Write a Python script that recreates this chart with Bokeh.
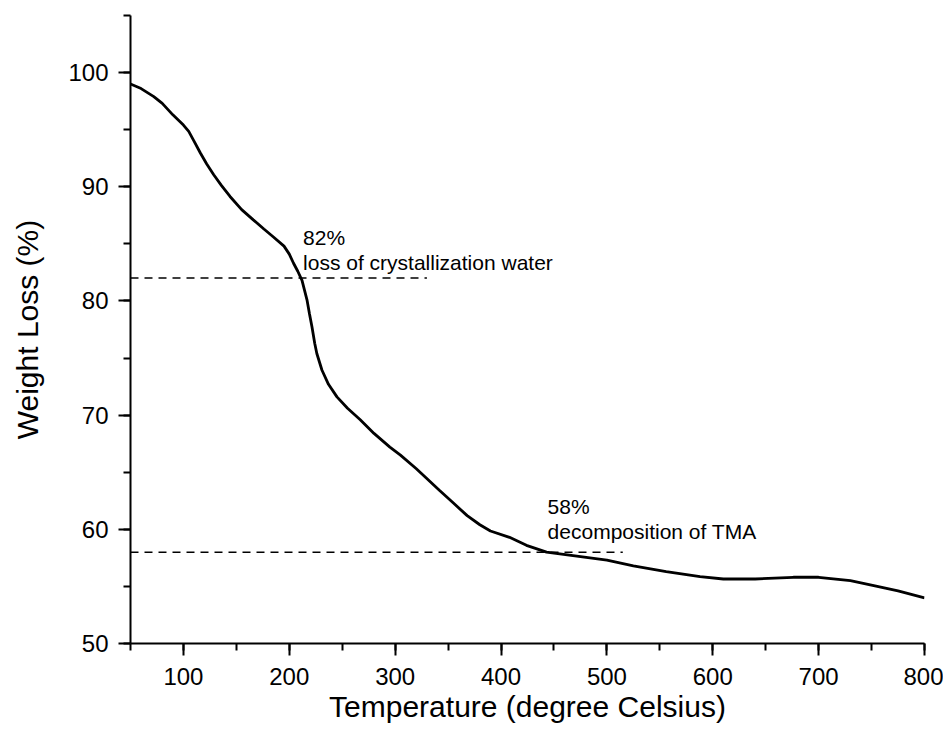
from bokeh.plotting import figure
from bokeh.models import Range1d, SingleIntervalTicker, Label
from bokeh.embed import file_html
from bokeh.resources import INLINE

# Thermogravimetric curve
temperature = [50, 60, 72, 80, 90, 100, 105, 110, 116, 122, 128.6, 136, 144, 155, 166,
               176, 185, 195, 200, 204, 208, 212, 216.7, 219, 221.4, 224, 226, 230.8,
               237, 245, 255, 267, 280, 295, 305, 320, 342, 355, 368, 380, 390, 408,
               424, 443, 468, 500, 525, 556, 588, 610, 640, 676, 700, 730, 751, 775, 800]
weight_loss = [99.0, 98.6, 97.9, 97.3, 96.3, 95.4, 94.85, 94.0, 92.96, 92.0, 91.05, 90.1,
               89.15, 88.0, 87.1, 86.3, 85.6, 84.8, 84.1, 83.3, 82.6, 81.8, 80.1, 78.9,
               77.75, 76.3, 75.4, 73.95, 72.7, 71.6, 70.6, 69.6, 68.4, 67.2, 66.5, 65.3,
               63.4, 62.3, 61.2, 60.4, 59.85, 59.3, 58.6, 58.0, 57.7, 57.3, 56.8, 56.3,
               55.85, 55.65, 55.65, 55.8, 55.8, 55.5, 55.1, 54.6, 54.0]

# Reference levels and annotations
level_values = [82, 58]
level_end_temps = [330, 515]
level_start_temp = 50
pct_labels = ["82%", "58%"]
desc_labels = ["loss of crystallization water", "decomposition of TMA"]
label_x = [213, 444]
pct_label_y = [85.55, 62.0]
desc_label_y = [83.4, 59.8]

x_title = "Temperature (degree Celsius)"
y_title = "Weight Loss (%)"

FONT = "Liberation Sans"

p = figure(width=943, height=728,
           x_range=Range1d(50, 800), y_range=Range1d(50, 105),
           output_backend="svg", toolbar_location=None,
           min_border_left=130, min_border_right=19,
           min_border_top=15, min_border_bottom=85)

p.xgrid.visible = False
p.ygrid.visible = False
p.outline_line_color = None
p.background_fill_color = "white"
p.border_fill_color = "white"

p.line(temperature, weight_loss, line_color="black", line_width=2.8)

p.segment(x0=[level_start_temp] * len(level_values), y0=level_values,
          x1=level_end_temps, y1=level_values,
          line_color="black", line_width=1.5, line_dash="8 6")

for lx, py, dy, t1, t2 in zip(label_x, pct_label_y, desc_label_y, pct_labels, desc_labels):
    p.add_layout(Label(x=lx, y=py, text=t1, text_font=FONT,
                       text_font_size="21px", text_baseline="alphabetic",
                       text_color="black"))
    p.add_layout(Label(x=lx, y=dy, text=t2, text_font=FONT,
                       text_font_size="21px", text_baseline="alphabetic",
                       text_color="black"))

p.xaxis.ticker = SingleIntervalTicker(interval=100, num_minor_ticks=2)
p.yaxis.ticker = SingleIntervalTicker(interval=10, num_minor_ticks=2)

for ax in (p.xaxis, p.yaxis):
    ax.axis_line_width = 2
    ax.axis_line_color = "black"
    ax.major_tick_line_width = 2
    ax.minor_tick_line_width = 2
    ax.major_tick_line_color = "black"
    ax.minor_tick_line_color = "black"
    ax.major_tick_out = 12
    ax.major_tick_in = 0
    ax.minor_tick_out = 7
    ax.minor_tick_in = 0
    ax.major_label_text_font = FONT
    ax.major_label_text_font_size = "24px"
    ax.major_label_text_color = "black"
    ax.axis_label_text_font = FONT
    ax.axis_label_text_font_size = "30px"
    ax.axis_label_text_font_style = "normal"
    ax.axis_label_text_color = "black"

p.xaxis.major_label_standoff = 12
p.yaxis.major_label_standoff = 10
p.xaxis.axis_label = x_title
p.yaxis.axis_label = y_title
p.xaxis.axis_label_standoff = 2
p.yaxis.axis_label_standoff = 21

open("out.html", "w").write(file_html(p, INLINE))
